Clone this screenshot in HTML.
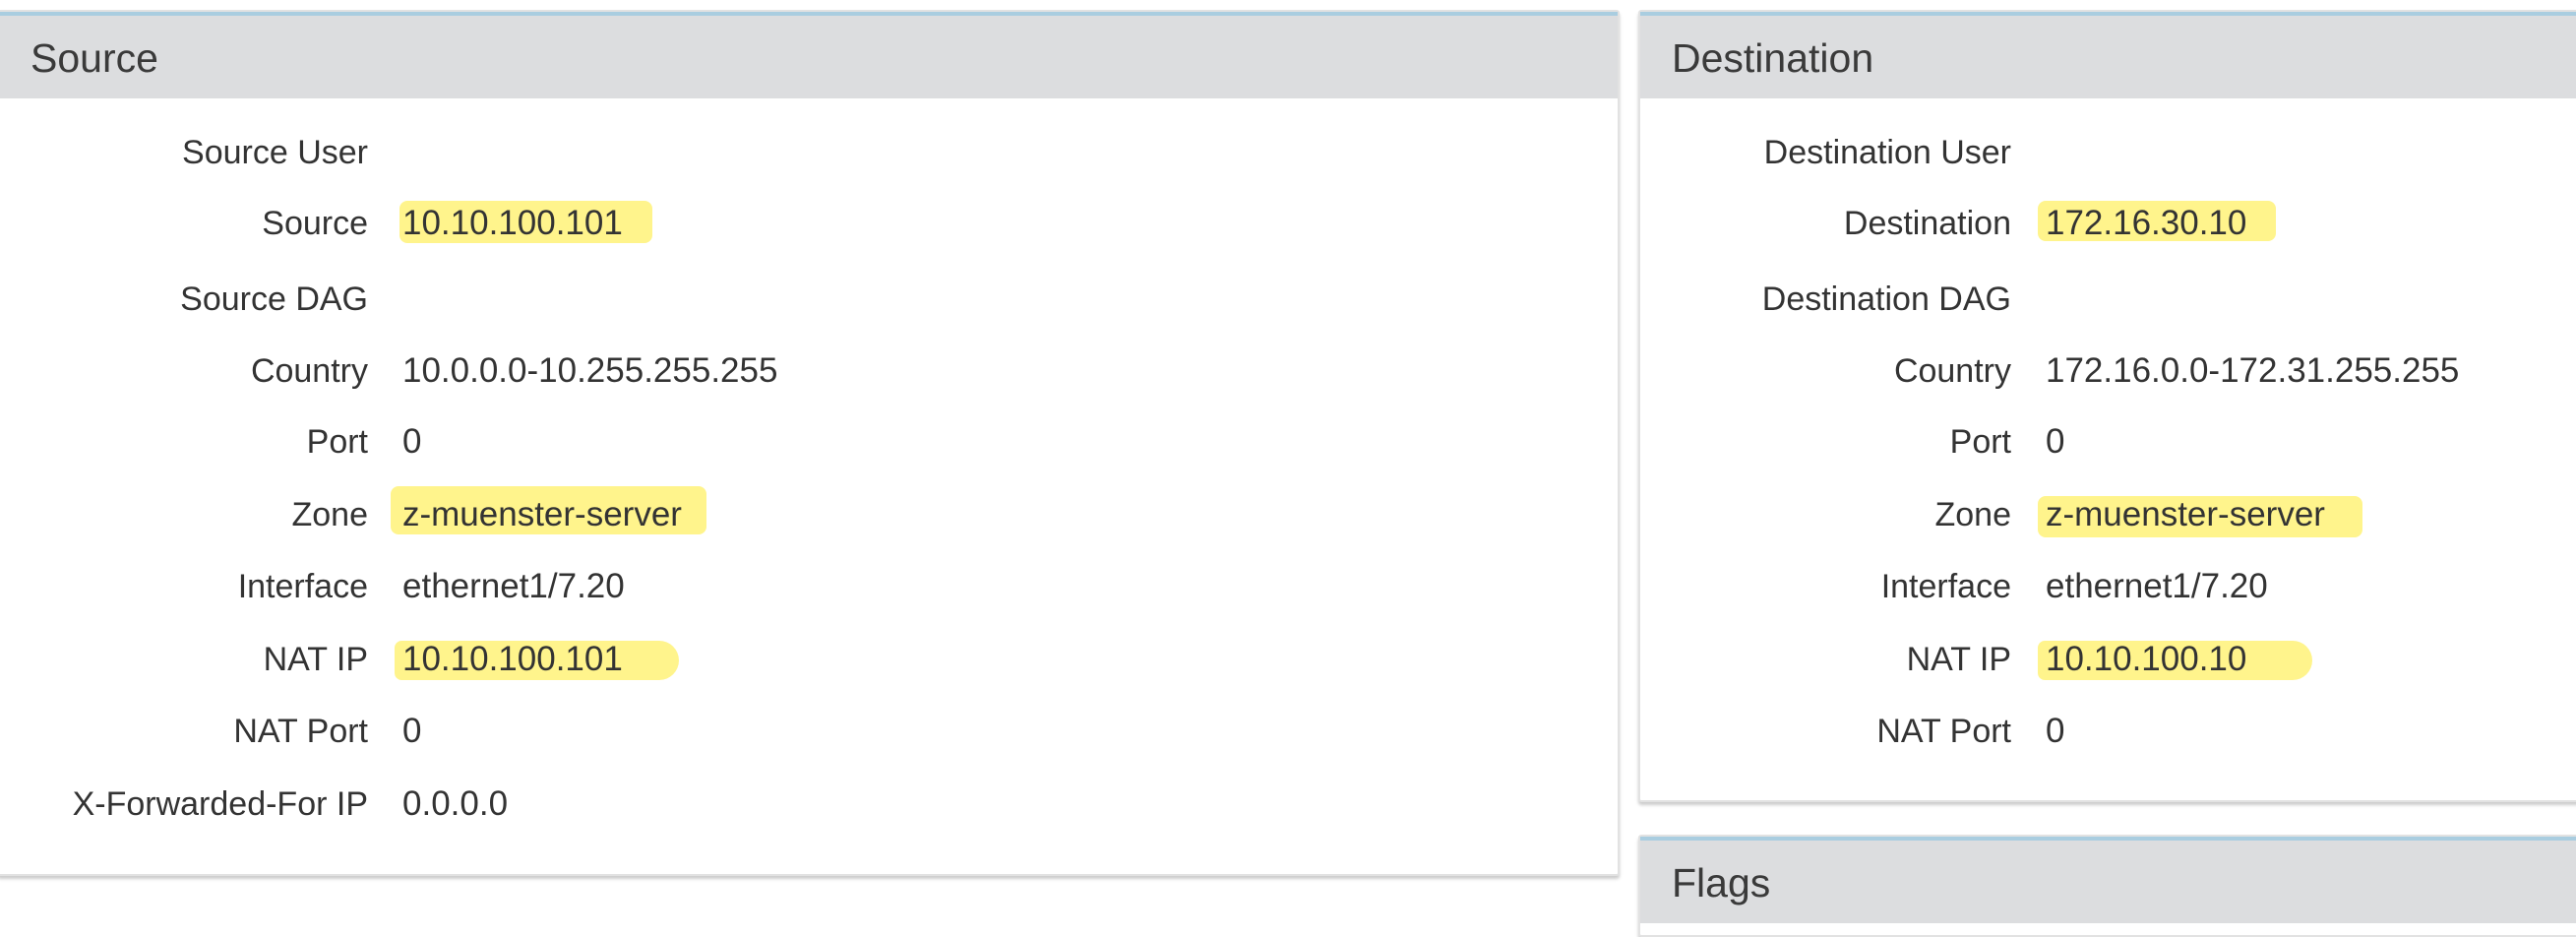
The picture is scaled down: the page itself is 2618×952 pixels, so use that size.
<!DOCTYPE html>
<html><head><meta charset="utf-8"><style>
body{margin:0;width:2618px;height:924px;background:#fff;position:relative;overflow:hidden;font-family:"Liberation Sans",sans-serif;color:#333}
.p{position:absolute;background:#fff;border:2px solid #e2e2e2;box-shadow:0 3px 3px #ccc;border-radius:3px}
.h{position:absolute;left:0;right:0;top:0;height:84px;background:#dcdddf;border-top:4px solid #a9cde0}
.h span{position:absolute;left:32px;top:20px;font-size:41px;color:#3a3a3a}
.l{position:absolute;font-size:34px;text-align:right;white-space:nowrap;line-height:40px}
.v{position:absolute;font-size:35px;white-space:nowrap;line-height:40px}
.hl{position:absolute;background:#fff48c;border-radius:8px}
</style></head><body>
<div class="p" style="left:-3px;top:10px;width:1645px;height:876px"><div class="h"><span>Source</span></div></div>
<div class="p" style="left:1665px;top:10px;width:960px;height:801px"><div class="h"><span>Destination</span></div></div>
<div class="p" style="left:1665px;top:848px;width:960px;height:100px"><div class="h"><span>Flags</span></div></div>

<div class="hl" style="left:406px;top:204px;width:257px;height:43px"></div>
<div class="hl" style="left:397px;top:494px;width:321px;height:49px"></div>
<div class="hl" style="left:401px;top:651px;width:289px;height:40px;border-radius:8px 22px 22px 8px"></div>
<div class="hl" style="left:2071px;top:204px;width:242px;height:41px"></div>
<div class="hl" style="left:2071px;top:504px;width:330px;height:42px"></div>
<div class="hl" style="left:2071px;top:651px;width:279px;height:40px;border-radius:8px 22px 22px 8px"></div>

<div class="l" style="right:2244px;top:135px">Source User</div>
<div class="l" style="right:2244px;top:207px">Source</div><div class="v" style="left:409px;top:207px">10.10.100.101</div>
<div class="l" style="right:2244px;top:284px">Source DAG</div>
<div class="l" style="right:2244px;top:357px">Country</div><div class="v" style="left:409px;top:357px">10.0.0.0-10.255.255.255</div>
<div class="l" style="right:2244px;top:429px">Port</div><div class="v" style="left:409px;top:429px">0</div>
<div class="l" style="right:2244px;top:503px">Zone</div><div class="v" style="left:409px;top:503px">z-muenster-server</div>
<div class="l" style="right:2244px;top:576px">Interface</div><div class="v" style="left:409px;top:576px">ethernet1/7.20</div>
<div class="l" style="right:2244px;top:650px">NAT IP</div><div class="v" style="left:409px;top:650px">10.10.100.101</div>
<div class="l" style="right:2244px;top:723px">NAT Port</div><div class="v" style="left:409px;top:723px">0</div>
<div class="l" style="right:2244px;top:797px">X-Forwarded-For IP</div><div class="v" style="left:409px;top:797px">0.0.0.0</div>

<div class="l" style="right:574px;top:135px">Destination User</div>
<div class="l" style="right:574px;top:207px">Destination</div><div class="v" style="left:2079px;top:207px">172.16.30.10</div>
<div class="l" style="right:574px;top:284px">Destination DAG</div>
<div class="l" style="right:574px;top:357px">Country</div><div class="v" style="left:2079px;top:357px">172.16.0.0-172.31.255.255</div>
<div class="l" style="right:574px;top:429px">Port</div><div class="v" style="left:2079px;top:429px">0</div>
<div class="l" style="right:574px;top:503px">Zone</div><div class="v" style="left:2079px;top:503px">z-muenster-server</div>
<div class="l" style="right:574px;top:576px">Interface</div><div class="v" style="left:2079px;top:576px">ethernet1/7.20</div>
<div class="l" style="right:574px;top:650px">NAT IP</div><div class="v" style="left:2079px;top:650px">10.10.100.10</div>
<div class="l" style="right:574px;top:723px">NAT Port</div><div class="v" style="left:2079px;top:723px">0</div>
</body></html>
